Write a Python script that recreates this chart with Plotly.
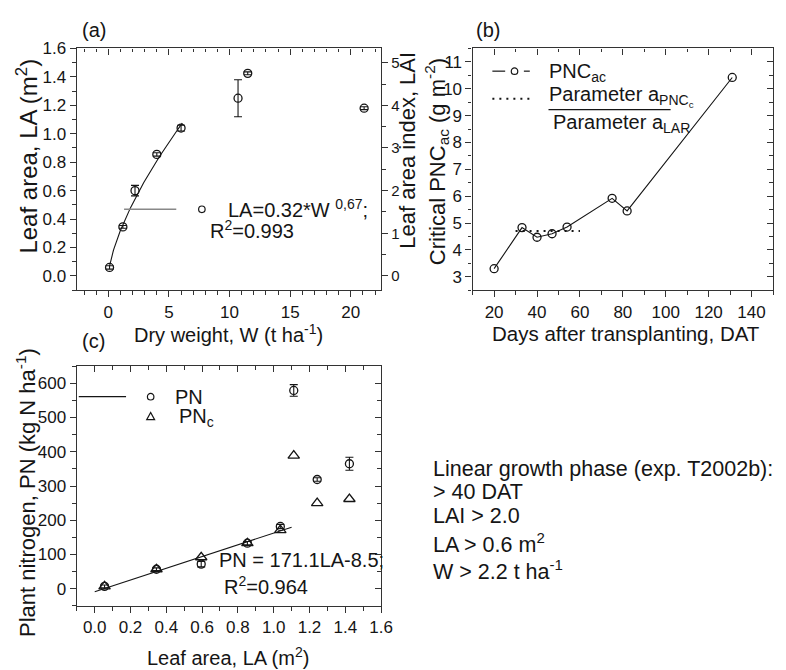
import numpy as np
import plotly.graph_objects as go

# ---------------- data ----------------
# Panel (a): leaf area vs dry weight
W_a = [0.1, 1.2, 2.2, 4.0, 6.0, 10.7, 11.5, 21.1]
LA_a = [0.06, 0.345, 0.60, 0.855, 1.04, 1.25, 1.425, 1.18]
LA_a_err = [0.012, 0.01, 0.037, 0.012, 0.02, 0.13, 0.01, 0.01]
FIT_A_COEF = 0.32
FIT_A_EXP = 0.67
FIT_A_W = [0.1, 6.1]
LAI_PER_LA = 10.0 / 3.0

# Panel (b): critical PNC vs DAT
DAT = [20, 33, 40, 47, 54, 75, 82, 131]
PNC_ac = [3.30, 4.83, 4.47, 4.60, 4.85, 5.92, 5.45, 10.42]
PARAM_RATIO = 4.70
PARAM_DAT = [30, 60]

# Panel (c): plant nitrogen vs leaf area
LA_c = [0.055, 0.345, 0.595, 0.853, 1.037, 1.112, 1.243, 1.423]
PN = [7, 57, 72, 133, 182, 579, 319, 365]
PN_err = [4, 4, 8, 5, 6, 17, 5, 19]
PNc = [7, 57, 92, 133, 171, 389, 250, 262]
FIT_C_SLOPE = 171.1
FIT_C_INT = -8.5
FIT_C_LA = [0.0, 1.1]

# ---------------- figure ----------------
FW, FH = 786, 670
FONT = "Liberation Sans, Arial, sans-serif"
INK = "#151515"
AX = "#333333"
DOTS = "2px,5px"


def px(x):
    return x / FW


def py(y):
    return 1 - y / FH


fig = go.Figure()

# (a) fit curve
wfit = np.linspace(FIT_A_W[0], FIT_A_W[1], 120)
fig.add_trace(go.Scatter(x=wfit, y=FIT_A_COEF * wfit ** FIT_A_EXP, mode="lines",
                         line=dict(color=INK, width=1.1), xaxis="x", yaxis="y",
                         showlegend=False, hoverinfo="skip"))
fig.add_trace(go.Scatter(x=W_a, y=LA_a, mode="markers",
                         marker=dict(symbol="circle-open", size=8, color=INK, line=dict(width=1.3)),
                         error_y=dict(type="data", array=LA_a_err, width=4, thickness=1.1, color=INK),
                         xaxis="x", yaxis="y", showlegend=False))

# (b)
fig.add_trace(go.Scatter(x=DAT, y=PNC_ac, mode="lines+markers",
                         line=dict(color=INK, width=1.1),
                         marker=dict(symbol="circle-open", size=8, color=INK, line=dict(width=1.3)),
                         xaxis="x3", yaxis="y3", showlegend=False))
fig.add_trace(go.Scatter(x=PARAM_DAT, y=[PARAM_RATIO, PARAM_RATIO], mode="lines",
                         line=dict(color=INK, width=2, dash=DOTS),
                         xaxis="x3", yaxis="y3", showlegend=False))

# (c)
lafit = np.array(FIT_C_LA)
fig.add_trace(go.Scatter(x=lafit, y=FIT_C_SLOPE * lafit + FIT_C_INT, mode="lines",
                         line=dict(color=INK, width=1.1), xaxis="x5", yaxis="y5",
                         showlegend=False))
fig.add_trace(go.Scatter(x=LA_c, y=PN, mode="markers",
                         marker=dict(symbol="circle-open", size=8, color=INK, line=dict(width=1.3)),
                         error_y=dict(type="data", array=PN_err, width=4, thickness=1.1, color=INK),
                         xaxis="x5", yaxis="y5", showlegend=False))
fig.add_trace(go.Scatter(x=LA_c, y=PNc, mode="markers",
                         marker=dict(symbol="triangle-up-open", size=10, color=INK, line=dict(width=1.3)),
                         xaxis="x5", yaxis="y5", showlegend=False))

# ---------------- axes ----------------

def ax(rng, dtick, mdtick, ticks="outside", labels=True, **kw):
    d = dict(range=rng, dtick=dtick, showline=True, linecolor=AX, linewidth=1.4,
             ticks=ticks, ticklen=6, tickwidth=1.3, tickcolor=AX,
             showticklabels=labels, tickfont=dict(family=FONT, size=17, color=INK),
             showgrid=False, zeroline=False,
             minor=dict(ticks=ticks, ticklen=3.5, tickwidth=1.2, tickcolor=AX, dtick=mdtick, showgrid=False))
    d.update(kw)
    return d


dom_ax = [px(78), px(387)]
dom_bx = [px(480), px(785)]
dom_top = [py(285), py(40)]
dom_c = [py(605), py(362)]

XA = [-2.6, 22.5]
YA = [-0.1, 1.6]
XB = [10, 150]
YB = [2.5, 11.5]
XC = [-0.1, 1.6]
YC = [-50, 650]

fig.update_layout(
    xaxis=ax(XA, 5, 1, domain=dom_ax, anchor="y"),
    yaxis=ax(YA, 0.2, 0.1, domain=dom_top, anchor="x", tickformat=".1f"),
    xaxis2=ax(XA, 5, 1, ticks="inside", labels=False, overlaying="x", side="top", anchor="y"),
    yaxis2=ax([YA[0] * LAI_PER_LA, YA[1] * LAI_PER_LA], 1, 0.5, overlaying="y", side="right",
              anchor="x", tickfont=dict(family=FONT, size=15, color=INK)),
    xaxis3=ax(XB, 20, 10, domain=dom_bx, anchor="y3"),
    yaxis3=ax(YB, 1, 0.5, domain=dom_top, anchor="x3"),
    xaxis4=ax(XB, 20, 10, ticks="inside", labels=False, overlaying="x3", side="top", anchor="y3"),
    yaxis4=ax(YB, 1, 0.5, ticks="inside", labels=False, overlaying="y3", side="right", anchor="x3"),
    xaxis5=ax(XC, 0.2, 0.1, domain=dom_ax, anchor="y5", tickformat=".1f"),
    yaxis5=ax(YC, 100, 50, domain=dom_c, anchor="x5"),
    xaxis6=ax(XC, 0.2, 0.1, ticks="inside", labels=False, overlaying="x5", side="top", anchor="y5"),
    yaxis6=ax(YC, 100, 50, ticks="inside", labels=False, overlaying="y5", side="right", anchor="x5"),
)

# dummy traces so overlay axes are drawn
for xa, ya in [("x2", "y"), ("x", "y2"), ("x4", "y3"), ("x3", "y4"), ("x6", "y5"), ("x5", "y6")]:
    fig.add_trace(go.Scatter(x=[None], y=[None], xaxis=xa, yaxis=ya, showlegend=False, hoverinfo="skip"))

# ---------------- annotations ----------------
ann = []


def text(x, y, s, size=20, xanchor="left", angle=0):
    ann.append(dict(x=px(x), y=py(y), xref="paper", yref="paper", text=s, showarrow=False,
                    xanchor=xanchor, yanchor="middle", textangle=angle, borderpad=0,
                    font=dict(family=FONT, size=size, color=INK)))


text(82, 21, "(a)")
text(482, 21, "(b)")
text(82, 337, "(c)")

text(27, 149, "Leaf area, LA (m<sup>2</sup>)", size=24, xanchor="center", angle=-90)
text(413, 143, "Leaf area index, LAI", size=22, xanchor="center", angle=-90)
text(444, 155, "Critical PNC<sub>ac</sub> (g m<sup>-2</sup>)", size=22, xanchor="center", angle=-90)
text(232, 329, "Dry weight, W (t ha<sup>-1</sup>)", size=20, xanchor="center")
text(636, 329, "Days after transplanting, DAT", size=20.5, xanchor="center")
text(27, 490, "Plant nitrogen, PN (kg N ha<sup>-1</sup>)", size=22, xanchor="center", angle=-90)
text(232, 656, "Leaf area, LA (m<sup>2</sup>)", size=20, xanchor="center")

# legend (a)
text(231, 202, "LA=0.32*W <sup>0,67</sup>;")
text(212, 223, "R<sup>2</sup>=0.993")
# legend (b)
text(556, 64, "PNC<sub>ac</sub>")
text(556, 89, "Parameter a<sub>PNC<sub>c</sub></sub>")
text(561, 116, "Parameter a<sub>LAR</sub>")
# legend (c)
text(177, 393, "PN")
text(181, 414, "PN<sub>c</sub>")
text(221, 558, "PN = 171.1LA-8.5;")
text(226, 584, "R<sup>2</sup>=0.964")

# side text
SIDE = 21.5
text(439, 466, "Linear growth phase (exp. T2002b):", size=SIDE)
text(439, 490, "&gt; 40 DAT", size=SIDE)
text(439, 514, "LAI &gt; 2.0", size=SIDE)
text(439, 541, "LA &gt; 0.6 m<sup>2</sup>", size=SIDE)
text(439, 569, "W &gt; 2.2 t ha<sup>-1</sup>", size=SIDE)

# ---------------- legend symbols as shapes ----------------
shapes = []


def hline(x0, x1, y, color=INK, width=1.2, dash="solid"):
    shapes.append(dict(type="line", xref="paper", yref="paper", x0=px(x0), x1=px(x1),
                       y0=py(y), y1=py(y), line=dict(color=color, width=width, dash=dash)))


def circ(cx, cy, r=3.3):
    shapes.append(dict(type="circle", xref="paper", yref="paper", x0=px(cx - r), x1=px(cx + r),
                       y0=py(cy + r), y1=py(cy - r), line=dict(color=INK, width=1.2)))


def tri(cx, cy, r=4):
    p = "M{},{} L{},{} L{},{} Z".format(px(cx - r), py(cy + r * 0.8), px(cx + r), py(cy + r * 0.8),
                                        px(cx), py(cy - r))
    shapes.append(dict(type="path", xref="paper", yref="paper", path=p, line=dict(color=INK, width=1.2)))


hline(126, 179, 203, color="#888888", width=1.6)
circ(205, 203)

hline(500, 513, 63)
circ(522.5, 63)
hline(532, 538, 63)
hline(500, 538, 91, width=2, dash=DOTS)
hline(557, 681, 102)

hline(80, 128, 393)
circ(153, 393)
tri(153, 413)

fig.update_layout(annotations=ann, shapes=shapes, width=FW, height=FH,
                  margin=dict(l=0, r=0, t=0, b=0), paper_bgcolor="white", plot_bgcolor="white",
                  showlegend=False)

fig.write_html("out.html")
